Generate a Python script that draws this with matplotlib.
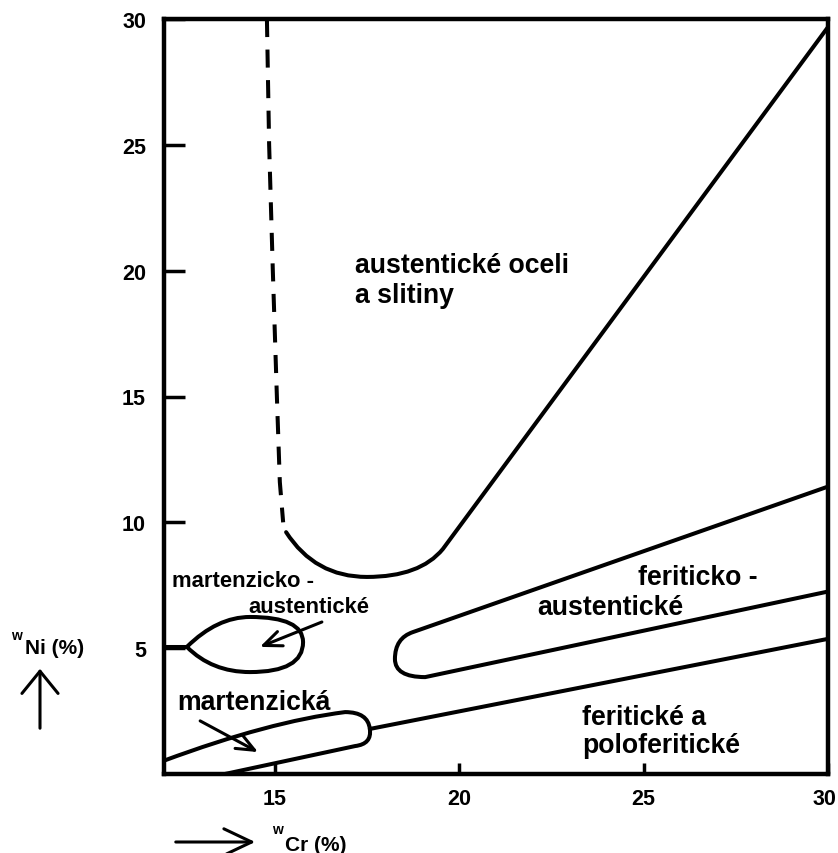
import matplotlib
matplotlib.use("Agg")
import matplotlib.pyplot as plt
import matplotlib.transforms as mtransforms
from matplotlib.path import Path
from matplotlib.patches import PathPatch, FancyArrowPatch

plt.rcParams['font.family'] = ['Liberation Sans', 'DejaVu Sans']
plt.rcParams['font.weight'] = 'bold'

# ---- data (wCr %, wNi %) ----
# dashed upper part of the austenite boundary
dashed_cr = [14.79, 14.85, 14.95, 15.06, 15.14, 15.23]
dashed_ni = [30.0, 25.0, 20.0, 15.0, 11.6, 10.0]

# austenite boundary: U-bend (quadratic Bezier nodes) then straight line
aus_cr = [15.31, 16.09, 17.50, 18.94, 19.56, 30.0]
aus_ni = [9.61, 7.83, 7.83, 7.83, 8.94, 29.68]
aus_codes = ['M', 'Q', 'Q', 'Q', 'Q', 'L']

# ferritic-austenitic tongue
fa_cr = [30.0, 18.75, 18.26, 18.26, 18.26, 19.08, 30.0]
fa_ni = [11.42, 5.64, 5.40, 4.57, 3.85, 3.85, 7.25]
fa_codes = ['M', 'L', 'Q', 'Q', 'Q', 'Q', 'L']

# ferritic boundary line
fb_cr = [17.58, 30.0]
fb_ni = [1.79, 5.37]

# martensitic tongue
m_cr = [12.0, 14.85, 16.91, 17.53, 17.58, 17.64, 17.18, 13.65]
m_ni = [0.53, 2.08, 2.46, 2.46, 1.79, 1.19, 1.11, 0.0]
m_codes = ['M', 'Q', 'Q', 'Q', 'Q', 'Q', 'Q', 'L']

# martensitic-austenitic island
ma_cr = [12.62, 13.44, 14.33, 15.77, 15.77, 15.77, 14.33, 13.30, 12.62]
ma_ni = [5.05, 6.24, 6.24, 6.24, 5.24, 4.05, 4.05, 4.05, 5.05]
ma_codes = ['M', 'Q', 'Q', 'Q', 'Q', 'Q', 'Q', 'Q', 'Q']
ma_stub_cr = [12.0, 12.62]
ma_stub_ni = [5.05, 5.05]

xticks = [15, 20, 25, 30]
yticks = [5, 10, 15, 20, 25, 30]

labels = [
    ("austentické oceli", 17.18, 19.94, 19.2),
    ("a slitiny", 17.18, 18.75, 19.2),
    ("martenzicko -", 12.22, 7.47, 15.8),
    ("austentické", 14.28, 6.44, 15.8),
    ("martenzická", 12.35, 2.58, 19.2),
    ("feriticko -", 24.85, 7.55, 19.2),
    ("austentické", 22.11, 6.36, 19.2),
    ("feritické a", 23.33, 1.99, 19.2),
    ("poloferitické", 23.33, 0.87, 19.2),
]
arrows = [((16.28, 6.04), (14.60, 5.05)),
          ((12.98, 2.11), (14.55, 0.87))]

CODE = {'M': Path.MOVETO, 'L': Path.LINETO, 'Q': Path.CURVE3}

W, H = 838, 854
fig = plt.figure(figsize=(W / 100, H / 100), dpi=100)
ax = fig.add_axes([164 / W, 1 - 775 / H, (828 - 164) / W, (775 - 20) / H])
ax.set_xlim(12, 30)
ax.set_ylim(0, 30)

lw = 2.9


def draw(xs, ys, codes):
    p = Path(list(zip(xs, ys)), [CODE[c] for c in codes])
    ax.add_patch(PathPatch(p, facecolor='none', edgecolor='black', lw=lw,
                           capstyle='round', joinstyle='round'))


kw = dict(color='black', lw=lw, solid_capstyle='round', solid_joinstyle='round')
ax.plot(dashed_cr, dashed_ni, color='black', lw=lw, linestyle=(0, (13 / lw, 9 / lw)),
        dash_capstyle='butt')
draw(aus_cr, aus_ni, aus_codes)
draw(fa_cr, fa_ni, fa_codes)
ax.plot(fb_cr, fb_ni, **kw)
draw(m_cr, m_ni, m_codes)
draw(ma_cr, ma_ni, ma_codes)
ax.plot(ma_stub_cr, ma_stub_ni, **kw)

for txt, x, y, fs in labels:
    ax.text(x, y, txt, fontsize=fs, fontweight='bold', ha='left', va='baseline')

for (x0, y0), (x1, y1) in arrows:
    ax.annotate('', xy=(x1, y1), xytext=(x0, y0),
                arrowprops=dict(arrowstyle='->,head_length=1.3,head_width=0.55',
                                lw=2.2, color='black', shrinkA=0, shrinkB=0,
                                mutation_scale=10))

for s in ax.spines.values():
    s.set_linewidth(3.2)
ax.set_xticks(xticks)
ax.set_yticks(yticks)
ax.tick_params(axis='both', direction='in', labelsize=15.5, width=2.5, colors='black')
ax.tick_params(axis='y', length=15, pad=13)
ax.tick_params(axis='x', length=8, pad=10)
for lab in ax.get_xticklabels() + ax.get_yticklabels():
    lab.set_fontweight('bold')
# keep the last x label inside the canvas
last = ax.get_xticklabels()[-1]
last.set_transform(last.get_transform() +
                   mtransforms.ScaledTranslation(-4 / 100, 0, fig.dpi_scale_trans))

# axis captions outside the axes
fig.text(25 / W, 1 - 654 / H, "Ni (%)", fontsize=15, fontweight='bold', ha='left', va='baseline')
fig.text(11 / W, 1 - 640 / H, "w", fontsize=10, fontweight='bold', ha='left', va='baseline')
fig.text(285 / W, 1 - 851 / H, "Cr (%)", fontsize=15, fontweight='bold', ha='left', va='baseline')
fig.text(272 / W, 1 - 834 / H, "w", fontsize=10, fontweight='bold', ha='left', va='baseline')

fig.add_artist(FancyArrowPatch(
    (40 / W, 1 - 732 / H), (40 / W, 1 - 667 / H), transform=fig.transFigure,
    arrowstyle='->,head_length=1.6,head_width=1.3', mutation_scale=10, lw=2.2, color='black'))
fig.add_artist(FancyArrowPatch(
    (173 / W, 1 - 843 / H), (258 / W, 1 - 843 / H), transform=fig.transFigure,
    arrowstyle='->,head_length=2.0,head_width=0.95', mutation_scale=10, lw=2.2, color='black'))

fig.savefig("out.png", dpi=100)
